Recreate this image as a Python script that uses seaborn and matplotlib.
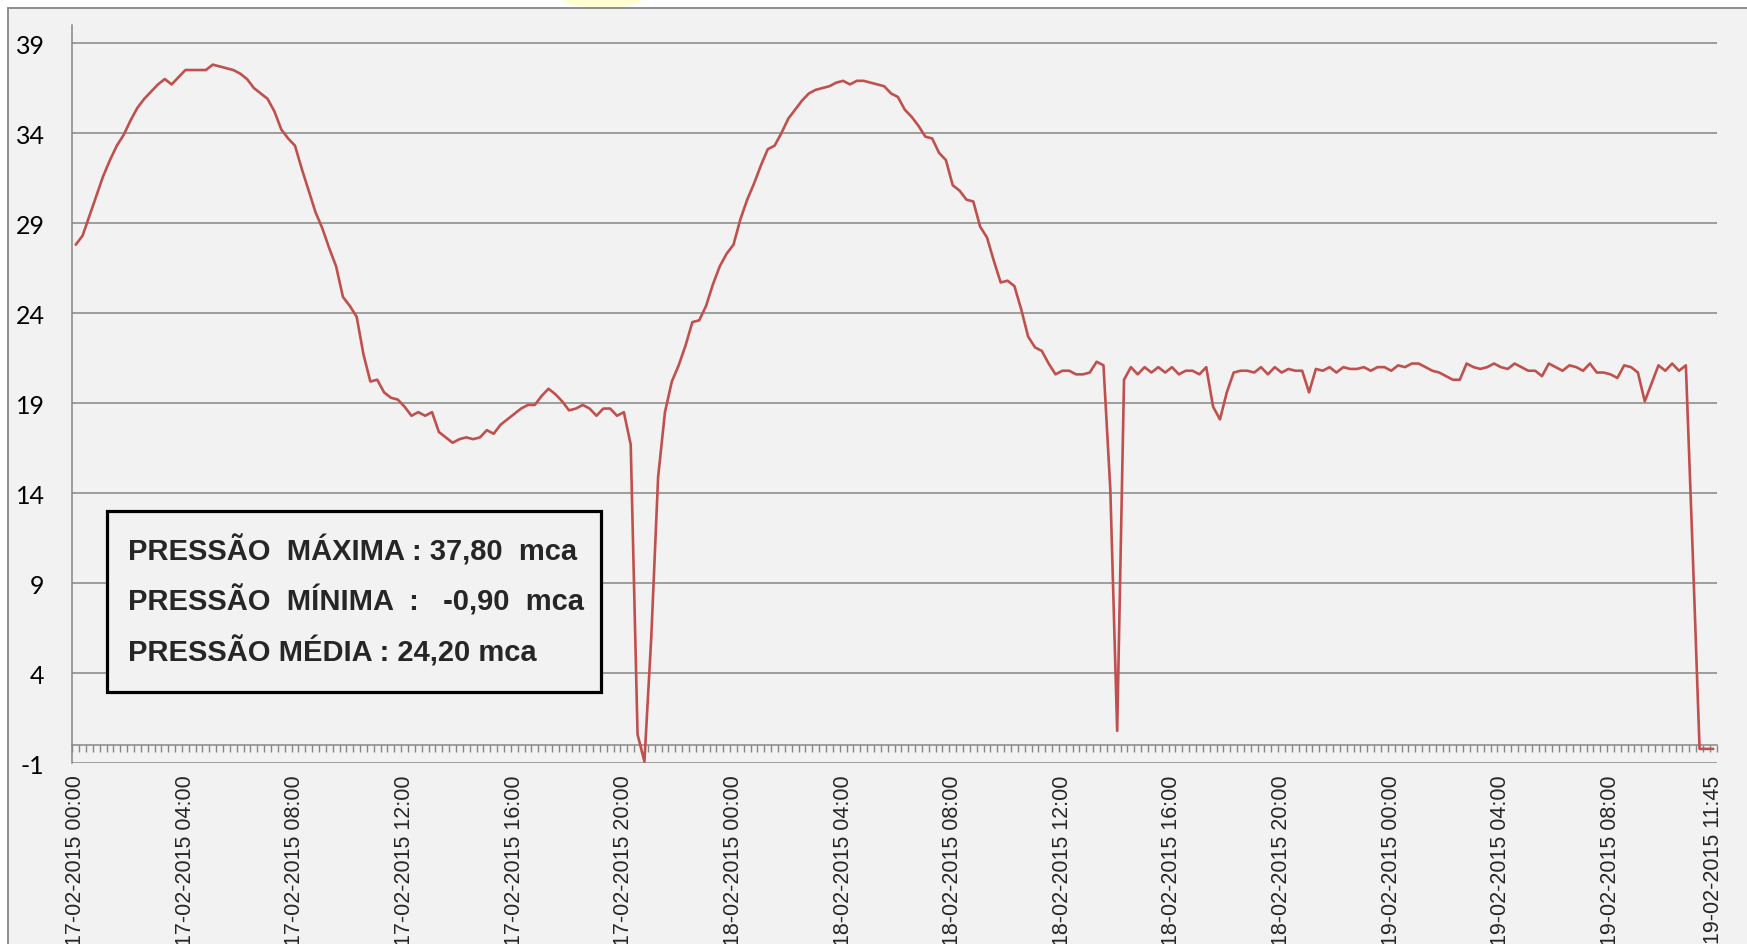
import numpy as np
import pandas as pd
import matplotlib
matplotlib.use("Agg")
import matplotlib.pyplot as plt
import seaborn as sns
from matplotlib.patches import Rectangle, Ellipse

# Pressure readings every 15 min, 17-02-2015 00:00 -> 19-02-2015 11:45 (mca)
pressure = [
    27.8, 28.3, 29.4, 30.5, 31.6, 32.5, 33.3, 33.9, 34.7, 35.4,
    35.9, 36.3, 36.7, 37.0, 36.7, 37.1, 37.5, 37.5, 37.5, 37.5,
    37.8, 37.7, 37.6, 37.5, 37.3, 37.0, 36.5, 36.2, 35.9, 35.2,
    34.2, 33.7, 33.3, 32.0, 30.8, 29.6, 28.7, 27.6, 26.6, 24.9,
    24.4, 23.8, 21.7, 20.2, 20.3, 19.6, 19.3, 19.2, 18.8, 18.3,
    18.5, 18.3, 18.5, 17.4, 17.1, 16.8, 17.0, 17.1, 17.0, 17.1,
    17.5, 17.3, 17.8, 18.1, 18.4, 18.7, 18.9, 18.9, 19.4, 19.8,
    19.5, 19.1, 18.6, 18.7, 18.9, 18.7, 18.3, 18.7, 18.7, 18.3,
    18.5, 16.7, 0.6, -0.9, 6.0, 14.9, 18.5, 20.2, 21.1, 22.2,
    23.5, 23.6, 24.4, 25.6, 26.6, 27.3, 27.8, 29.2, 30.3, 31.2,
    32.2, 33.1, 33.3, 34.0, 34.8, 35.3, 35.8, 36.2, 36.4, 36.5,
    36.6, 36.8, 36.9, 36.7, 36.9, 36.9, 36.8, 36.7, 36.6, 36.2,
    36.0, 35.3, 34.9, 34.4, 33.8, 33.7, 32.9, 32.5, 31.1, 30.8,
    30.3, 30.2, 28.8, 28.2, 26.9, 25.7, 25.8, 25.5, 24.2, 22.7,
    22.1, 21.9, 21.2, 20.6, 20.8, 20.8, 20.6, 20.6, 20.7, 21.3,
    21.1, 14.2, 0.8, 20.3, 21.0, 20.6, 21.0, 20.7, 21.0, 20.7,
    21.0, 20.6, 20.8, 20.8, 20.6, 21.0, 18.8, 18.1, 19.6, 20.7,
    20.8, 20.8, 20.7, 21.0, 20.6, 21.0, 20.7, 20.9, 20.8, 20.8,
    19.6, 20.9, 20.8, 21.0, 20.7, 21.0, 20.9, 20.9, 21.0, 20.8,
    21.0, 21.0, 20.8, 21.1, 21.0, 21.2, 21.2, 21.0, 20.8, 20.7,
    20.5, 20.3, 20.3, 21.2, 21.0, 20.9, 21.0, 21.2, 21.0, 20.9,
    21.2, 21.0, 20.8, 20.8, 20.5, 21.2, 21.0, 20.8, 21.1, 21.0,
    20.8, 21.2, 20.7, 20.7, 20.6, 20.4, 21.1, 21.0, 20.7, 19.1,
    20.1, 21.1, 20.8, 21.2, 20.8, 21.1, 10.7, -0.2, -0.2, -0.2,
]
times = pd.date_range("2015-02-17 00:00", periods=len(pressure), freq="15min")
y_ticks = [-1, 4, 9, 14, 19, 24, 29, 34, 39]
stats_lines = [
    "PRESSÃO  MÁXIMA : 37,80  mca",
    "PRESSÃO  MÍNIMA  :   -0,90  mca",
    "PRESSÃO MÉDIA : 24,20 mca",
]

df = pd.DataFrame({"idx": np.arange(len(pressure)), "time": times, "pressao": pressure})

# x labels every 4 hours plus the last reading
tick_idx = list(range(0, len(df), 16)) + [len(df) - 1]
tick_labels = [df["time"][i].strftime("%d-%m-%Y %H:%M") for i in tick_idx]

sns.set_style("white")
grey = "#868686"
W, H = 1747, 945
fig = plt.figure(figsize=(W / 100, H / 100), dpi=100)
fig.patch.set_facecolor("white")

# chart area frame
fig.add_artist(Ellipse((602 / W, 1.0), 80 / W, 18 / H, transform=fig.transFigure,
                       facecolor="#FFFFD2", edgecolor="none", zorder=-3))
fig.add_artist(Rectangle((8 / W, -0.1), 1.0, 1.1 - 9.3 / H, transform=fig.transFigure,
                         facecolor="#F2F2F2", edgecolor=grey, linewidth=1.3, zorder=-2))

ax = fig.add_axes([72.3 / W, 1 - 764.3 / H, (1716.7 - 72.3) / W, (764.3 - 26) / H])
ax.set_facecolor("none")

sns.lineplot(data=df, x="idx", y="pressao", ax=ax, color="#C0504D", linewidth=1.9, zorder=3)

ax.set_xlim(-0.5, len(df) - 0.5)
ax.set_ylim(-1, 40)
ax.set_yticks(y_ticks)
ax.set_yticklabels([str(v) for v in y_ticks], fontfamily=["Lato", "DejaVu Sans"], fontsize=18)
ax.grid(axis="y", color=grey, linewidth=1.1)
ax.tick_params(axis="y", direction="out", length=8, width=1.1, color=grey, pad=12, labelcolor="black")

ax.set_xticks(tick_idx)
ax.set_xticklabels(tick_labels, rotation=90, fontfamily=["Liberation Sans", "DejaVu Sans"],
                   fontsize=15.5, va="top", ha="center")
ax.tick_params(axis="x", length=0, pad=8)
ax.set_xlabel("")
ax.set_ylabel("")

for side in ["top", "right", "bottom"]:
    ax.spines[side].set_visible(False)
ax.spines["left"].set_color(grey)
ax.spines["left"].set_linewidth(1.1)

# category axis crossing at zero with a tick on every slot
zero_ax = ax.secondary_xaxis(0, transform=ax.transData)
zero_ax.set_xticks(np.arange(-0.5, len(df), 1.0))
zero_ax.tick_params(axis="x", direction="out", length=5, width=1.0, color=grey, labelbottom=False)
zero_ax.spines["bottom"].set_color(grey)
zero_ax.spines["bottom"].set_linewidth(1.1)

# statistics box
fig.add_artist(Rectangle((106.7 / W, 1 - 693.3 / H), (601 - 106.7) / W, (693.3 - 511.7) / H,
                         transform=fig.transFigure, facecolor="#F2F2F2", edgecolor="black",
                         linewidth=2.3, zorder=5))
for line, base in zip(stats_lines, [560.7, 610.7, 661.7]):
    fig.text(128.3 / W, 1 - base / H, line, fontfamily=["Liberation Sans", "DejaVu Sans"],
             fontweight="bold", fontsize=21, va="baseline", ha="left", zorder=6)

fig.savefig("out.png", dpi=100)
